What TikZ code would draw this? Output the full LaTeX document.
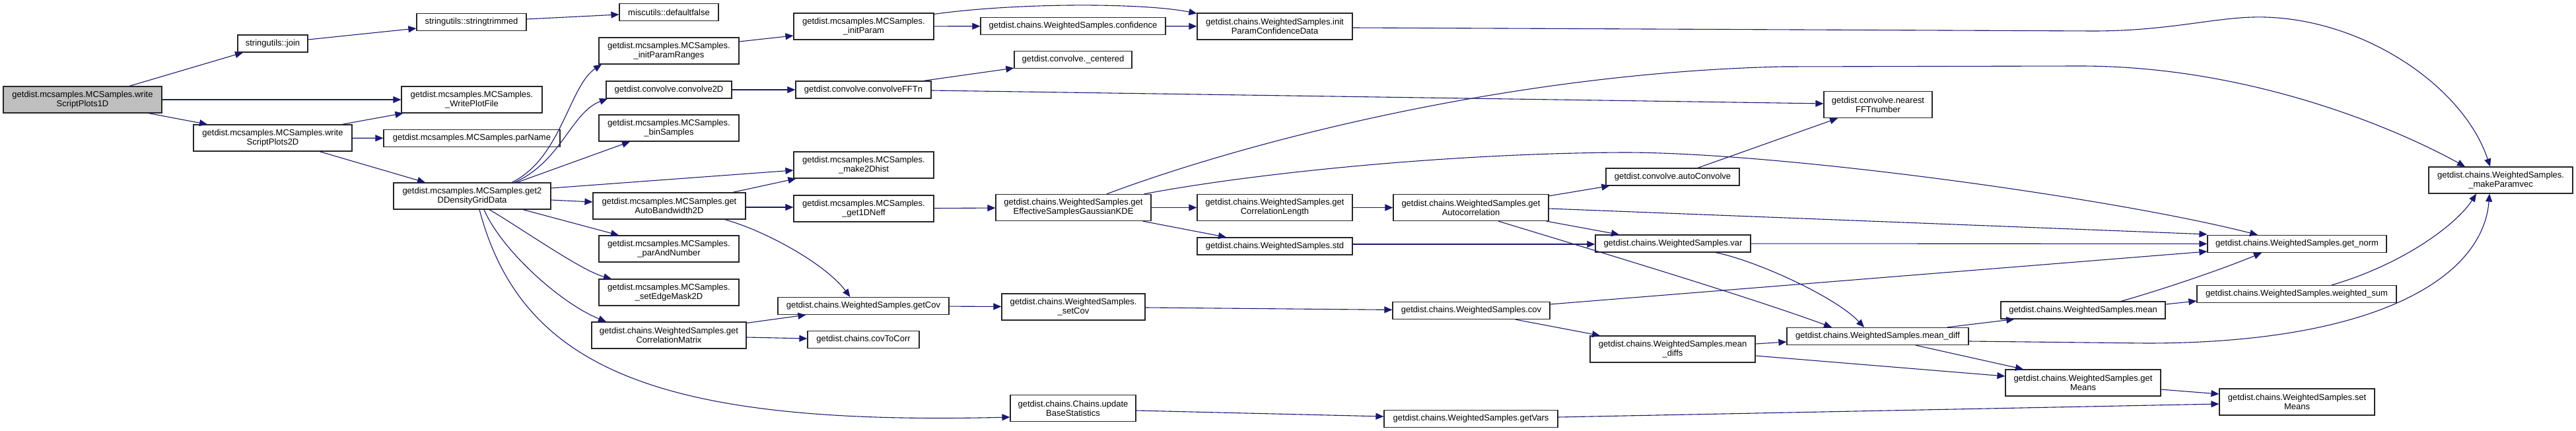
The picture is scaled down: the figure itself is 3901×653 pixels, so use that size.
\documentclass[tikz,border=0pt]{standalone}
\usepackage{fontspec}
\setmainfont{Liberation Sans}
\usepackage{xcolor}
\usepackage{tikz}
\usetikzlibrary{arrows.meta}

\definecolor{edgeblue}{HTML}{191970}
\newcommand{\nodefont}{\fontsize{13pt}{14pt}\selectfont}

\begin{document}
\begin{tikzpicture}[
  x=1pt, y=-1pt,
  box/.style={draw=black!85, line width=1.2pt, fill=white, align=center, inner sep=2pt,
    minimum width=#1, minimum height=26pt, font=\nodefont},
  box/.default=200pt,
  tall/.style={minimum height=40pt},
  root/.style={fill=black!25},
  arr/.style={-{Triangle[length=12pt,width=10pt]}, line width=1.1pt, draw=edgeblue}
]
  \useasboundingbox (0,0) rectangle (3901,653);

  % column 1-3
  \node[box=240pt, tall, root] (w1) at (125,151) {getdist.mcsamples.MCSamples.write\\ScriptPlots1D};
  \node[box=106pt] (join) at (413,66) {stringutils::join};
  \node[box=240pt, tall] (w2) at (413,209) {getdist.mcsamples.MCSamples.write\\ScriptPlots2D};
  \node[box=166pt] (trim) at (714,33.5) {stringutils::stringtrimmed};
  \node[box=213pt, tall] (wpf) at (714.5,151) {getdist.mcsamples.MCSamples.\\\_WritePlotFile};
  \node[box=267pt] (parname) at (714.5,209.5) {getdist.mcsamples.MCSamples.parName};
  \node[box=238pt, tall] (g2d) at (715,297) {getdist.mcsamples.MCSamples.get2\\DDensityGridData};

  % column 4
  \node[box=150pt] (dfalse) at (1013,18.5) {miscutils::defaultfalse};
  \node[box=212pt, tall] (ipr) at (1013,77) {getdist.mcsamples.MCSamples.\\\_initParamRanges};
  \node[box=190pt] (conv2) at (1013,136) {getdist.convolve.convolve2D};
  \node[box=212pt, tall] (bins) at (1013,194) {getdist.mcsamples.MCSamples.\\\_binSamples};
  \node[box=231pt, tall] (bw) at (1013.5,312) {getdist.mcsamples.MCSamples.get\\AutoBandwidth2D};
  \node[box=212pt, tall] (pan) at (1013,377) {getdist.mcsamples.MCSamples.\\\_parAndNumber};
  \node[box=212pt, tall] (sem) at (1013,443) {getdist.mcsamples.MCSamples.\\\_setEdgeMask2D};
  \node[box=234pt, tall] (gcm) at (1013,508) {getdist.chains.WeightedSamples.get\\CorrelationMatrix};

  % column 5
  \node[box=212pt, tall] (ip) at (1308,40) {getdist.mcsamples.MCSamples.\\\_initParam};
  \node[box=205pt] (fftn) at (1307.5,136) {getdist.convolve.convolveFFTn};
  \node[box=212pt, tall] (m2d) at (1308,250) {getdist.mcsamples.MCSamples.\\\_make2Dhist};
  \node[box=212pt, tall] (neff) at (1308,316) {getdist.mcsamples.MCSamples.\\\_get1DNeff};
  \node[box=259pt] (gcov) at (1307.5,463.5) {getdist.chains.WeightedSamples.getCov};
  \node[box=169pt] (c2c) at (1307.5,514.5) {getdist.chains.covToCorr};

  % column 6
  \node[box=280pt] (conf) at (1625,39.5) {getdist.chains.WeightedSamples.confidence};
  \node[box=178pt] (cent) at (1625,90.5) {getdist.convolve.\_centered};
  \node[box=235pt, tall] (kde) at (1625.5,314.5) {getdist.chains.WeightedSamples.get\\EffectiveSamplesGaussianKDE};
  \node[box=217pt, tall] (setcov) at (1625.5,465) {getdist.chains.WeightedSamples.\\\_setCov};
  \node[box=190pt, tall] (ubs) at (1625,618.5) {getdist.chains.Chains.update\\BaseStatistics};

  % column 7-8
  \node[box=235pt, tall] (ipcd) at (1930.5,40) {getdist.chains.WeightedSamples.init\\ParamConfidenceData};
  \node[box=235pt, tall] (corl) at (1930.5,314.5) {getdist.chains.WeightedSamples.get\\CorrelationLength};
  \node[box=235pt] (std) at (1930.5,373) {getdist.chains.WeightedSamples.std};
  \node[box=235pt, tall] (acor) at (2227.5,314.5) {getdist.chains.WeightedSamples.get\\Autocorrelation};
  \node[box=238pt] (cov) at (2228,470.5) {getdist.chains.WeightedSamples.cov};
  \node[box=263pt] (gvars) at (2227.5,634.5) {getdist.chains.WeightedSamples.getVars};

  % column 9-10
  \node[box=202pt] (aconv) at (2533,268) {getdist.convolve.autoConvolve};
  \node[box=235pt] (var) at (2533.5,369) {getdist.chains.WeightedSamples.var};
  \node[box=250pt, tall] (mdiffs) at (2533,529) {getdist.chains.WeightedSamples.mean\\\_diffs};
  \node[box=164pt, tall] (nfft) at (2844,158.5) {getdist.convolve.nearest\\FFTnumber};
  \node[box=275pt] (mdiff) at (2843.5,509.5) {getdist.chains.WeightedSamples.mean\_diff};

  % column 11-13
  \node[box=249pt] (mean) at (3154.5,470) {getdist.chains.WeightedSamples.mean};
  \node[box=235pt, tall] (gmeans) at (3154.5,580) {getdist.chains.WeightedSamples.get\\Means};
  \node[box=271pt] (norm) at (3478.5,369.5) {getdist.chains.WeightedSamples.get\_norm};
  \node[box=302pt] (wsum) at (3478,445.5) {getdist.chains.WeightedSamples.weighted\_sum};
  \node[box=235pt, tall] (smeans) at (3478.5,609) {getdist.chains.WeightedSamples.set\\Means};
  \node[box=218pt, tall] (mpv) at (3787,273) {getdist.chains.WeightedSamples.\\\_makeParamvec};

  % calls
  \draw[arr] ([xshift=71pt]w1.north) -- ([xshift=-45pt]join.south);
  \draw[arr] (w1) -- (wpf);
  \draw[arr] ([xshift=100pt]w1.south) -- ([xshift=-99pt]w2.north);
  \draw[arr] ([yshift=6pt]join.east) -- ([yshift=-9.5pt]trim.west);
  \draw[arr] ([yshift=4.5pt]trim.east) -- ([yshift=-3.5pt]dfalse.west);
  \draw[arr] ([xshift=105pt]w2.north) -- ([xshift=-104pt]wpf.south);
  \draw[arr] (w2) -- (parname);
  \draw[arr] ([xshift=71pt]w2.south) -- ([xshift=-71pt]g2d.north);

  \draw[arr] ([xshift=60pt]g2d.north) .. controls (850,240) and (862,130) .. ([xshift=-102pt]ipr.south);
  \draw[arr] ([xshift=64pt]g2d.north) .. controls (850,245) and (865,170) .. ([xshift=-93pt]conv2.south);
  \draw[arr] ([xshift=68pt]g2d.north) -- ([xshift=-59pt]bins.south);
  \draw[arr] ([yshift=12pt]g2d.east) -- ([yshift=-8pt]m2d.west);
  \draw[arr] ([yshift=-6pt]g2d.east) -- ([yshift=6pt]bw.west);
  \draw[arr] ([xshift=77pt]g2d.south) -- ([xshift=-76pt]pan.north);
  \draw[arr] ([xshift=26pt]g2d.south) .. controls (785,343) and (880,410) .. ([xshift=-87pt]sem.north);
  \draw[arr] ([xshift=18pt]g2d.south) .. controls (760,380) and (850,460) .. ([xshift=-95pt]gcm.north);
  \draw[arr] ([xshift=11pt]g2d.south) .. controls (790,560) and (1000,645) .. ([yshift=-13.5pt]ubs.west);

  \draw[arr] ([yshift=14pt]ipr.east) -- ([yshift=-14pt]ip.west);
  \draw[arr] (ip) -- (conf);
  \draw[arr] ([yshift=-2pt]ip.north east) .. controls (1540,4) and (1730,4) .. ([yshift=-1pt]ipcd.north west);
  \draw[arr] (conf) -- (ipcd);
  \draw[arr] ([yshift=-2pt]ipcd.east) -- (3170,47) .. controls (3290,47) and (3360,24) .. (3430,26)
    .. controls (3580,30) and (3730,130) .. ([xshift=-16pt]mpv.north);
  \draw[arr] (conv2) -- (fftn);
  \draw[arr] ([xshift=-12pt]fftn.north east) -- ([yshift=1pt]cent.south west);
  \draw[arr] ([yshift=-1pt]fftn.east) -- ([yshift=1.5pt]nfft.west);

  \draw[arr] ([xshift=-20pt]bw.north east) -- ([xshift=4pt]m2d.south west);
  \draw[arr] ([yshift=-2pt]bw.east) -- ([yshift=2pt]neff.west);
  \draw[arr] ([xshift=84pt]bw.south) .. controls (1160,350) and (1250,400) .. ([xshift=-20pt]gcov.north);
  \draw[arr] (neff) -- (kde);

  \draw[arr] ([xshift=50.5pt]kde.north) .. controls (1900,210) and (2300,110) .. (2700,101) -- (3150,100)
    .. controls (3400,100) and (3620,190) .. ([xshift=-54pt]mpv.north);
  \draw[arr] ([xshift=-11pt]kde.north east) .. controls (1900,262) and (2200,232) .. (2460,231)
    .. controls (2700,231) and (3200,300) .. ([xshift=-59.5pt]norm.north);
  \draw[arr] (kde) -- (corl);
  \draw[arr] ([xshift=-13pt]kde.south east) -- ([xshift=-73.5pt]std.north);
  \draw[arr] (corl) -- (acor);

  \draw[arr] ([yshift=-3pt]acor.north east) -- ([xshift=6pt]aconv.south west);
  \draw[arr] ([yshift=-1.5pt]acor.east) -- ([yshift=14.5pt]norm.west);
  \draw[arr] ([xshift=-4pt]acor.south east) -- ([xshift=-81.5pt]var.north);
  \draw[arr] ([xshift=41.5pt]acor.south) .. controls (2400,375) and (2650,450) .. ([xshift=-69.5pt]mdiff.north);
  \draw[arr] ([xshift=38pt]aconv.north) -- ([xshift=-61pt]nfft.south);
  \draw[arr] ([yshift=3pt]std.east) -- ([yshift=-1pt]var.west);
  \draw[arr] (var) -- (norm);
  \draw[arr] ([xshift=64.5pt]var.south) .. controls (2660,395) and (2780,450) .. ([xshift=-20.5pt]mdiff.north);

  \draw[arr] ([yshift=-2pt]gcm.north east) -- ([xshift=43pt]gcov.south west);
  \draw[arr] ([yshift=-3pt]gcm.east) -- ([yshift=1.5pt]c2c.west);
  \draw[arr] (gcov) -- (setcov);
  \draw[arr] (setcov) -- (cov);
  \draw[arr] ([yshift=9.5pt]cov.east) -- ([yshift=-11.5pt]norm.west);
  \draw[arr] ([xshift=67pt]cov.south) -- ([xshift=-110pt]mdiffs.north);
  \draw[arr] ([yshift=8pt]mdiffs.east) -- ([yshift=-8.5pt]mdiff.west);
  \draw[arr] ([yshift=-10pt]mdiffs.east) -- ([yshift=10pt]gmeans.west);

  \draw[arr] ([xshift=-33pt]mdiff.north east) -- ([xshift=21pt]mean.south west);
  \draw[arr] ([xshift=57.5pt]mdiff.south) -- ([xshift=-90.5pt]gmeans.north);
  \draw[arr] ([yshift=-7.5pt]mdiff.east) -- (3250,520) .. controls (3600,520) and (3760,420) .. ([xshift=-17pt]mpv.south);
  \draw[arr] ([yshift=9pt]mean.east) -- ([yshift=-10.5pt]wsum.west);
  \draw[arr] ([xshift=57.5pt]mean.north) .. controls (3270,440) and (3360,410) .. ([xshift=-53.5pt]norm.south);
  \draw[arr] ([xshift=53pt]wsum.north) .. controls (3640,400) and (3720,340) .. ([xshift=-37pt]mpv.south);
  \draw[arr] ([yshift=-10pt]gmeans.east) -- ([yshift=12pt]smeans.west);
  \draw[arr] ([yshift=-3.5pt]ubs.east) -- ([yshift=3.5pt]gvars.west);
  \draw[arr] ([yshift=2.5pt]gvars.east) -- ([yshift=-3pt]smeans.west);
\end{tikzpicture}
\end{document}
